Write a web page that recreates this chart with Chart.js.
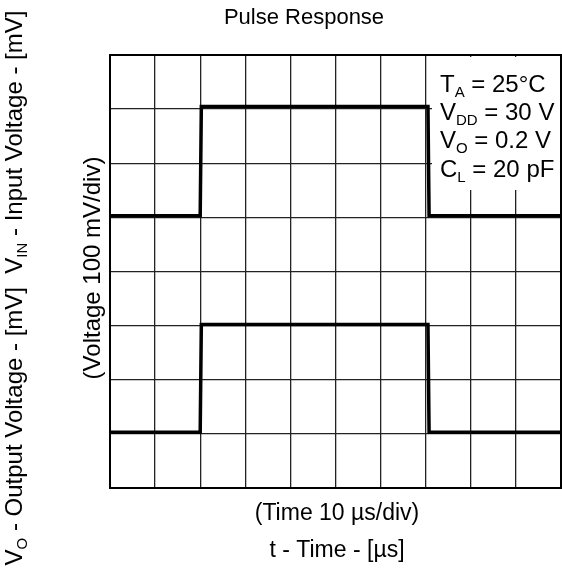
<!DOCTYPE html>
<html>
<head>
<meta charset="utf-8">
<script src="https://cdn.jsdelivr.net/npm/chart.js@4/dist/chart.umd.min.js"></script>
<style>
  html, body { margin: 0; padding: 0; background: #fff; }
  #wrap { width: 562px; height: 576px; position: relative; }
</style>
</head>
<body>
<div id="wrap"><canvas id="pulseChart"></canvas></div>
<script>
// Time axis (us) and the two traces (mV)
const timeUs = [0, 20, 20.25, 70.5, 70.75, 100];
const inputMv = [503, 503, 705, 705, 503, 503];   // V_IN trace
const outputMv = [103, 103, 302, 302, 103, 103];  // V_O trace

const xMin = 0, xMax = 100, xStep = 10;   // 10 us/div
const yMin = 0, yMax = 800, yStep = 100;  // 100 mV/div

const FONT = '"Liberation Sans", Arial, Helvetica, sans-serif';

// conditions box text: [text, subscript] pairs per line
const notes = [
    [['T', 'A'], [' = 25\u00B0C', '']],
    [['V', 'DD'], [' = 30 V', '']],
    [['V', 'O'], [' = 0.2 V', '']],
    [['C', 'L'], [' = 20 pF', '']]
];

function toPoints(xs, ys) {
    return xs.map((x, i) => ({ x: x, y: ys[i] }));
}

// draw text with subscripts; parts = [[main, sub], ...]
function richWidth(ctx, parts, size) {
    let w = 0;
    parts.forEach(p => {
        ctx.font = size + 'px ' + FONT;
        w += ctx.measureText(p[0]).width;
        if (p[1]) {
            ctx.font = Math.round(size * 0.62) + 'px ' + FONT;
            w += ctx.measureText(p[1]).width;
        }
    });
    return w;
}

function drawRich(ctx, parts, x, y, size) {
    ctx.textBaseline = 'alphabetic';
    ctx.textAlign = 'left';
    parts.forEach(p => {
        ctx.font = size + 'px ' + FONT;
        ctx.fillText(p[0], x, y);
        x += ctx.measureText(p[0]).width;
        if (p[1]) {
            ctx.font = Math.round(size * 0.62) + 'px ' + FONT;
            ctx.fillText(p[1], x, y + size * 0.22);
            x += ctx.measureText(p[1]).width;
        }
    });
}

const scopePlugin = {
    id: 'scopeDecor',
    beforeDatasetsDraw(chart) {
        const ctx = chart.ctx;
        // white patch behind the conditions text
        ctx.save();
        ctx.fillStyle = '#fff';
        ctx.fillRect(432, 57, 128, 133);
        ctx.restore();
    },
    afterDatasetsDraw(chart) {
        const ctx = chart.ctx;
        const a = chart.chartArea;
        ctx.save();
        ctx.strokeStyle = '#000';
        ctx.lineWidth = 2;
        ctx.strokeRect(a.left, a.top, a.right - a.left, a.bottom - a.top);

        ctx.fillStyle = '#000';
        // conditions
        const base = [92, 120, 148, 177];
        notes.forEach((line, i) => drawRich(ctx, line, 440, base[i], 24));

        // title
        ctx.font = '22px ' + FONT;
        ctx.textAlign = 'center';
        ctx.textBaseline = 'middle';
        ctx.fillText('Pulse Response', 304, 18);

        // x titles
        ctx.font = '23px ' + FONT;
        ctx.fillText('(Time 10 \u00B5s/div)', 337, 514);
        ctx.fillText('t - Time - [\u00B5s]', 337, 551);

        // inner y title
        ctx.save();
        ctx.translate(93, 268);
        ctx.rotate(-Math.PI / 2);
        ctx.font = '24px ' + FONT;
        ctx.fillText('(Voltage 100 mV/div)', 0, 0);
        ctx.restore();

        // outer y title with subscripts
        const yParts = [['V', 'O'], [' - Output Voltage - [mV]  V', 'IN'], [' - Input Voltage - [mV]', '']];
        ctx.save();
        ctx.translate(14, 288);
        ctx.rotate(-Math.PI / 2);
        const w = richWidth(ctx, yParts, 24);
        drawRich(ctx, yParts, -w / 2, 8, 24);
        ctx.restore();
        ctx.restore();
    }
};

const ctx = document.getElementById('pulseChart').getContext('2d');
const pulseChart = new Chart(ctx, {
    type: 'line',
    data: {
        datasets: [{
            label: 'VIN',
            data: toPoints(timeUs, inputMv),
            borderColor: '#000',
            borderWidth: 3.5,
            pointRadius: 0,
            tension: 0
        }, {
            label: 'VO',
            data: toPoints(timeUs, outputMv),
            borderColor: '#000',
            borderWidth: 3.5,
            pointRadius: 0,
            tension: 0
        }]
    },
    options: {
        responsive: true,
        maintainAspectRatio: false,
        animation: false,
        layout: { padding: { left: 110, top: 55, right: 1, bottom: 88 } },
        plugins: {
            legend: { display: false },
            tooltip: { enabled: false }
        },
        scales: {
            x: {
                type: 'linear',
                min: xMin,
                max: xMax,
                ticks: { display: false, stepSize: xStep },
                grid: { color: '#222', lineWidth: 1.3, drawTicks: false },
                border: { display: false }
            },
            y: {
                min: yMin,
                max: yMax,
                ticks: { display: false, stepSize: yStep },
                grid: { color: '#222', lineWidth: 1.3, drawTicks: false },
                border: { display: false }
            }
        }
    },
    plugins: [scopePlugin]
});
</script>
</body>
</html>
